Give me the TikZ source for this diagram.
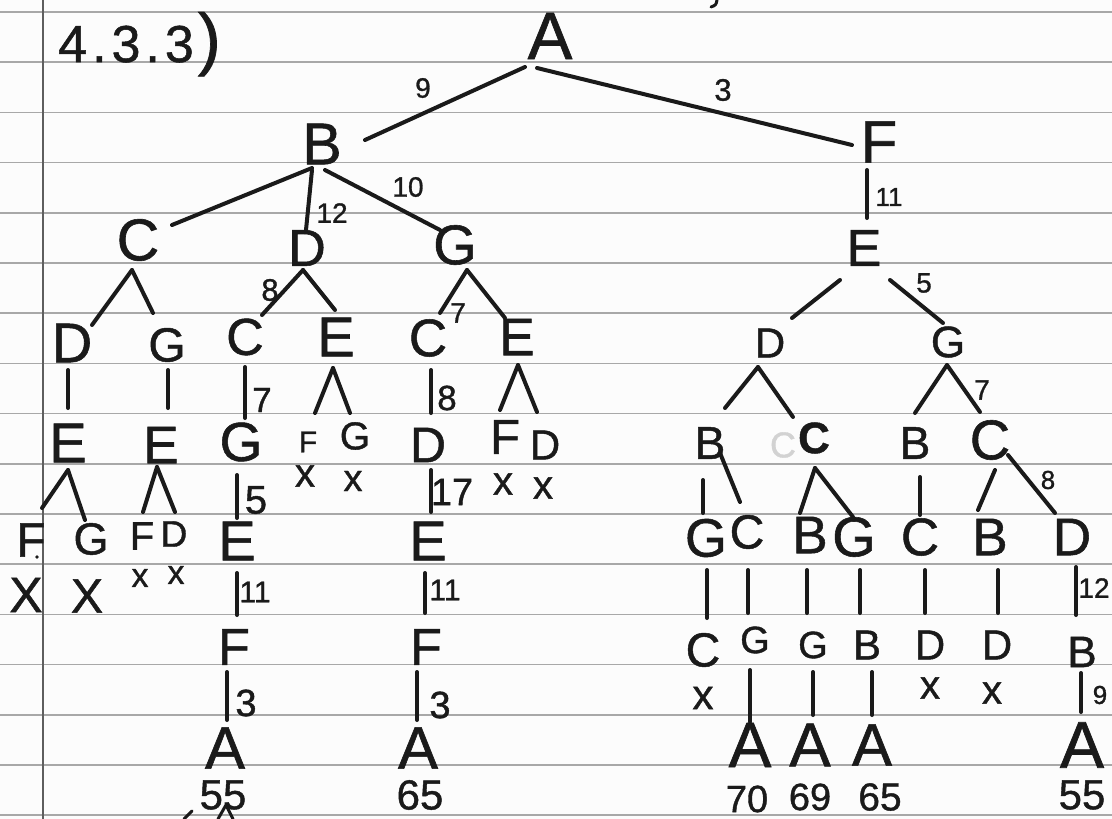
\documentclass[tikz,border=0pt]{standalone}
\usepackage{fontspec}
\setmainfont{Liberation Sans}[FakeBold=1]
\usetikzlibrary{calc}
\definecolor{ink}{HTML}{1A1A1A}
\definecolor{rulecol}{HTML}{A8A8A8}
\definecolor{margincol}{HTML}{5E5E5E}
\definecolor{paper}{HTML}{FCFCFC}
\definecolor{erased}{HTML}{D2D2D2}
% connector from node #1 (offset #2,#3 from its centre) to node #4 (offset #5,#6)
\newcommand{\conn}[6]{\draw[link] ($(#1)+(#2,#3)$) -- ($(#4)+(#5,#6)$);}
\begin{document}
\begin{tikzpicture}[x=1pt,y=-1pt,
  hand/.style={text=ink,inner sep=0pt,font=\fontsize{#1}{#1}\selectfont},
  link/.style={draw=ink,line width=4pt,line cap=round,line join=round}]
% ruled notebook page
\fill[paper] (0,0) rectangle (1112,819);
\useasboundingbox (0,0) rectangle (1112,819);
\foreach \k in {0,...,16}
  \draw[rulecol,line width=1.6pt] (0,12+50.2*\k) -- (1112,12+50.2*\k);
\draw[margincol,line width=2.2pt] (43,0) -- (43,819);

% heading
\node[text=ink,inner sep=0pt,anchor=base west,font=\fontsize{52}{52}\selectfont] (title) at (58,62)
  {4\kern5pt.\kern5pt3\kern5pt.\kern5pt3\kern4pt{\fontsize{69}{69}\selectfont)}};

% level 0-2
\node[hand=67] (A0) at (550,36) {A};
\node[hand=59] (B1) at (322,144) {B};
\node[hand=60] (F1) at (879,142) {F};
\node[hand=59] (C2) at (138,240) {C};
\node[hand=52] (D2) at (307,248) {D};
\node[hand=56] (G2) at (455,245) {G};
\node[hand=52] (E2) at (864,248) {E};
% level 3
\node[hand=56] (D3a) at (72,343) {D};
\node[hand=48] (G3a) at (167,345) {G};
\node[hand=52] (C3b) at (245,337) {C};
\node[hand=56] (E3b) at (336,337) {E};
\node[hand=53] (C3c) at (428,338) {C};
\node[hand=53] (E3c) at (517,337) {E};
\node[hand=42] (D3d) at (770,343) {D};
\node[hand=44] (G3d) at (948,342) {G};
% level 4
\node[hand=56] (E4a) at (68,443) {E};
\node[hand=53] (E4b) at (161,445) {E};
\node[hand=55] (G4c) at (241,442) {G};
\node[hand=30] (F4d) at (308,442) {F};
\node[hand=39] (G4e) at (355,436) {G};
\node[hand=50] (D4f) at (428,445) {D};
\node[hand=49] (F4g) at (505,437) {F};
\node[hand=42] (D4h) at (545,445) {D};
\node[hand=46] (B4i) at (710,443) {B};
\node[text=erased,inner sep=0pt,font=\fontsize{36}{36}\selectfont] (ghost) at (783,445) {C};
\node[hand=44,font=\fontsize{44}{44}\selectfont\bfseries] (C4j) at (814,438) {C};
\node[hand=46] (B4k) at (915,443) {B};
\node[hand=56] (C4l) at (990,440) {C};
% level 5
\node[hand=48] (F5a) at (31,540) {F};
\fill[ink] (37,557) circle (1.8);
\node[hand=45] (G5b) at (91,539) {G};
\node[hand=40] (F5c) at (142,536) {F};
\node[hand=37] (D5d) at (174,534) {D};
\node[hand=56] (E5e) at (237,541) {E};
\node[hand=56] (E5f) at (428,541) {E};
\node[hand=54] (G5g) at (706,538) {G};
\node[hand=48] (C5h) at (747,532) {C};
\node[hand=53] (B5i) at (810,535) {B};
\node[hand=56] (G5j) at (854,537) {G};
\node[hand=53] (C5k) at (920,537) {C};
\node[hand=53] (B5l) at (990,537) {B};
\node[hand=53] (D5m) at (1072,537) {D};
% level 6
\node[hand=52] (F6a) at (234,647) {F};
\node[hand=52] (F6b) at (426,647) {F};
\node[hand=48] (C6c) at (703,650) {C};
\node[hand=38] (G6d) at (755,640) {G};
\node[hand=38] (G6e) at (813,645) {G};
\node[hand=42] (B6f) at (867,645) {B};
\node[hand=42] (D6g) at (930,645) {D};
\node[hand=42] (D6h) at (997,645) {D};
\node[hand=44] (B6i) at (1082,652) {B};
% level 7
\node[hand=60] (A7a) at (225,748) {A};
\node[hand=60] (A7b) at (418,748) {A};
\node[hand=64] (A7c) at (750,745) {A};
\node[hand=62] (A7d) at (810,745) {A};
\node[hand=60] (A7e) at (872,745) {A};
\node[hand=66] (A7f) at (1082,745) {A};

% dead ends
\node[hand=40] (xF4d) at (305,476) {x};
\node[hand=38] (xG4e) at (353,481) {x};
\node[hand=40] (xF4g) at (503,484) {x};
\node[hand=40] (xD4h) at (543,488) {x};
\node[hand=34] (xF5c) at (140,578) {x};
\node[hand=34] (xD5d) at (176,575) {x};
\node[hand=50] (xF5a) at (26,595) {X};
\node[hand=48] (xG5b) at (87,596) {X};
\node[hand=42] (xC6c) at (703,698) {x};
\node[hand=40] (xD6g) at (930,688) {x};
\node[hand=40] (xD6h) at (992,693) {x};

% route totals
\node[hand=42] (c55a) at (223,795) {55};
\node[hand=42] (c65a) at (420,795) {65};
\node[hand=38] (c70)  at (747,799) {70};
\node[hand=38] (c69)  at (810,797) {69};
\node[hand=39] (c65b) at (880,797) {65};
\node[hand=42] (c55b) at (1082,795) {55};

% edge weights
\node[hand=28] (w9)   at (423,88)  {9};
\node[hand=31] (w3)   at (723,90)  {3};
\node[hand=28] (w12)  at (332,213) {12};
\node[hand=28] (w10)  at (408,187) {10};
\node[hand=26] (w11)  at (889,197) {11};
\node[hand=28] (w5)   at (924,283) {5};
\node[hand=31] (w8)   at (270,290) {8};
\node[hand=28] (w7)   at (458,313) {7};
\node[hand=35] (w7b)  at (262,400) {7};
\node[hand=35] (w8b)  at (447,398) {8};
\node[hand=40] (w5b)  at (256,500) {5};
\node[hand=38] (w17)  at (452,492) {17};
\node[hand=30] (w11b) at (255,592) {11};
\node[hand=30] (w11c) at (445,590) {11};
\node[hand=38] (w3b)  at (246,703) {3};
\node[hand=38] (w3c)  at (440,705) {3};
\node[hand=28] (w7c)  at (982,390) {7};
\node[hand=26] (w8c)  at (1048,480) {8};
\node[hand=28] (w12b) at (1094,588) {12};
\node[hand=26] (w9b)  at (1100,695) {9};

% connectors
\conn{A0}{-25}{31}{B1}{43}{-4}
\conn{A0}{-13}{32}{F1}{-27}{3}
\conn{B1}{-10}{24}{C2}{34}{-15}
\conn{B1}{-10}{26}{D2}{-1}{-18}
\conn{B1}{3}{26}{G2}{-15}{-15}
\conn{F1}{-12}{28}{E2}{3}{-30}
\conn{C2}{-6}{30}{D3a}{20}{-18}
\conn{C2}{-6}{30}{G3a}{-14}{-32}
\conn{D2}{-4}{22}{C3b}{17}{-22}
\conn{D2}{-4}{22}{E3b}{-1}{-27}
\conn{G2}{12}{25}{C3c}{12}{-25}
\conn{G2}{12}{25}{E3c}{-12}{-19}
\conn{E2}{-24}{32}{D3d}{22}{-25}
\conn{E2}{26}{32}{G3d}{-5}{-19}
\conn{D3a}{-4}{27}{E4a}{0}{-35}
\conn{G3a}{1}{25}{E4b}{7}{-37}
\conn{C3b}{0}{30}{G4c}{4}{-24}
\conn{E3b}{-3}{31}{F4d}{7}{-29}
\conn{E3b}{-3}{31}{G4e}{-5}{-23}
\conn{C3c}{3}{32}{D4f}{3}{-32}
\conn{E3c}{1}{28}{F4g}{-5}{-27}
\conn{E3c}{1}{28}{D4h}{-8}{-33}
\conn{D3d}{-12}{24}{B4i}{15}{-35}
\conn{D3d}{-12}{24}{C4j}{-21}{-21}
\conn{G3d}{-1}{23}{B4k}{0}{-30}
\conn{G3d}{-1}{23}{C4l}{-10}{-28}
\conn{E4a}{0}{27}{F5a}{11}{-32}
\conn{E4a}{0}{27}{G5b}{-6}{-19}
\conn{E4b}{-4}{22}{F5c}{1}{-24}
\conn{E4b}{-4}{22}{D5d}{1}{-22}
\conn{G4c}{-4}{33}{E5e}{0}{-23}
\conn{D4f}{3}{25}{E5f}{3}{-29}
\conn{B4i}{-7}{37}{G5g}{-3}{-25}
\conn{B4i}{10}{10}{C5h}{-7}{-30}
\conn{C4j}{1}{30}{B5i}{-10}{-22}
\conn{C4j}{1}{30}{G5j}{-1}{-20}
\conn{B4k}{5}{34}{C5k}{0}{-22}
\conn{C4l}{5}{30}{B5l}{-12}{-27}
\conn{C4l}{18}{15}{D5m}{-17}{-24}
\conn{E5e}{0}{32}{F6a}{3}{-32}
\conn{E5f}{-3}{32}{F6b}{-1}{-34}
\conn{G5g}{1}{32}{C6c}{4}{-32}
\conn{C5h}{1}{38}{G6d}{-7}{-27}
\conn{B5i}{-3}{35}{G6e}{-6}{-32}
\conn{G5j}{6}{33}{B6f}{-7}{-32}
\conn{C5k}{5}{33}{D6g}{-5}{-32}
\conn{B5l}{8}{33}{D6h}{1}{-32}
\conn{D5m}{4}{30}{B6i}{-6}{-37}
\conn{F6a}{-7}{25}{A7a}{2}{-28}
\conn{F6b}{-9}{25}{A7b}{-1}{-28}
\conn{G6d}{-5}{30}{A7c}{0}{-23}
\conn{G6e}{0}{27}{A7d}{3}{-30}
\conn{B6f}{5}{27}{A7e}{0}{-30}
\conn{B6i}{-1}{21}{A7f}{-1}{-33}

% pen strokes cut off at the page edges
\draw[link,line width=3pt] (717,0) .. controls (716,5) .. (711,7);
\draw[link,line width=3pt] (184,819) -- (192,811);
\draw[link,line width=3pt] (218,819) -- (226,805) -- (233,819);
\end{tikzpicture}
\end{document}
